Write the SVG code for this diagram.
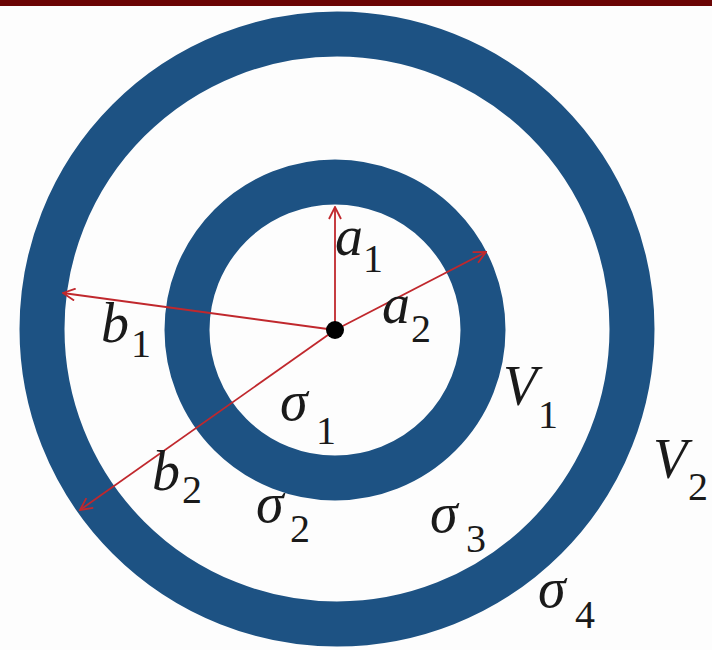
<svg xmlns="http://www.w3.org/2000/svg" width="712" height="650" viewBox="0 0 712 650">
<style>
.ring{fill:none;stroke:#1d5283;stroke-width:45}
.arr{stroke:#c0282d;stroke-width:1.8;fill:none}
.m{font-family:"Liberation Serif","DejaVu Serif",serif;font-style:italic;font-size:56px;fill:#1a1a1a}
.s{font-family:"Liberation Serif","DejaVu Serif",serif;font-size:40px;fill:#1a1a1a}
</style>
<defs>
<marker id="ah" viewBox="0 0 14 14" refX="13" refY="7" markerWidth="14" markerHeight="14" markerUnits="userSpaceOnUse" orient="auto">
<path d="M1,1 L13,7 L1,13" fill="none" stroke="#c0282d" stroke-width="1.8"/>
</marker>
</defs>
<rect width="712" height="650" fill="#fdfdfd"/>
<rect x="0" y="0" width="712" height="6" fill="#6b0505"/>
<g id="outer-sphere"><circle class="ring" cx="337" cy="329" r="295"/></g>
<g id="inner-sphere"><circle class="ring" cx="335" cy="330" r="148"/></g>
<g id="connectors">
<line class="arr" x1="335" y1="330" x2="335" y2="207" marker-end="url(#ah)"/>
<line class="arr" x1="335" y1="330" x2="486" y2="252" marker-end="url(#ah)"/>
<line class="arr" x1="335" y1="330" x2="63" y2="293" marker-end="url(#ah)"/>
<line class="arr" x1="335" y1="330" x2="80" y2="510" marker-end="url(#ah)"/>
</g>
<g id="center"><circle cx="335" cy="330" r="9" fill="#000"/></g>
<g id="labels">
<text class="m" x="335" y="255">a</text><text class="s" x="363" y="272">1</text>
<text class="m" x="382" y="323">a</text><text class="s" x="411" y="342">2</text>
<text class="m" x="101" y="342">b</text><text class="s" x="131" y="357">1</text>
<text class="m" x="152" y="490">b</text><text class="s" x="182" y="503">2</text>
<text class="m" x="280" y="420">σ</text><text class="s" x="316" y="444">1</text>
<text class="m" x="256" y="522">σ</text><text class="s" x="290" y="542">2</text>
<text class="m" x="430" y="532">σ</text><text class="s" x="466" y="552">3</text>
<text class="m" x="538" y="607">σ</text><text class="s" x="575" y="628">4</text>
<text class="m" x="503" y="405">V</text><text class="s" x="538" y="428">1</text>
<text class="m" x="653" y="478">V</text><text class="s" x="688" y="500">2</text>
</g>
</svg>
